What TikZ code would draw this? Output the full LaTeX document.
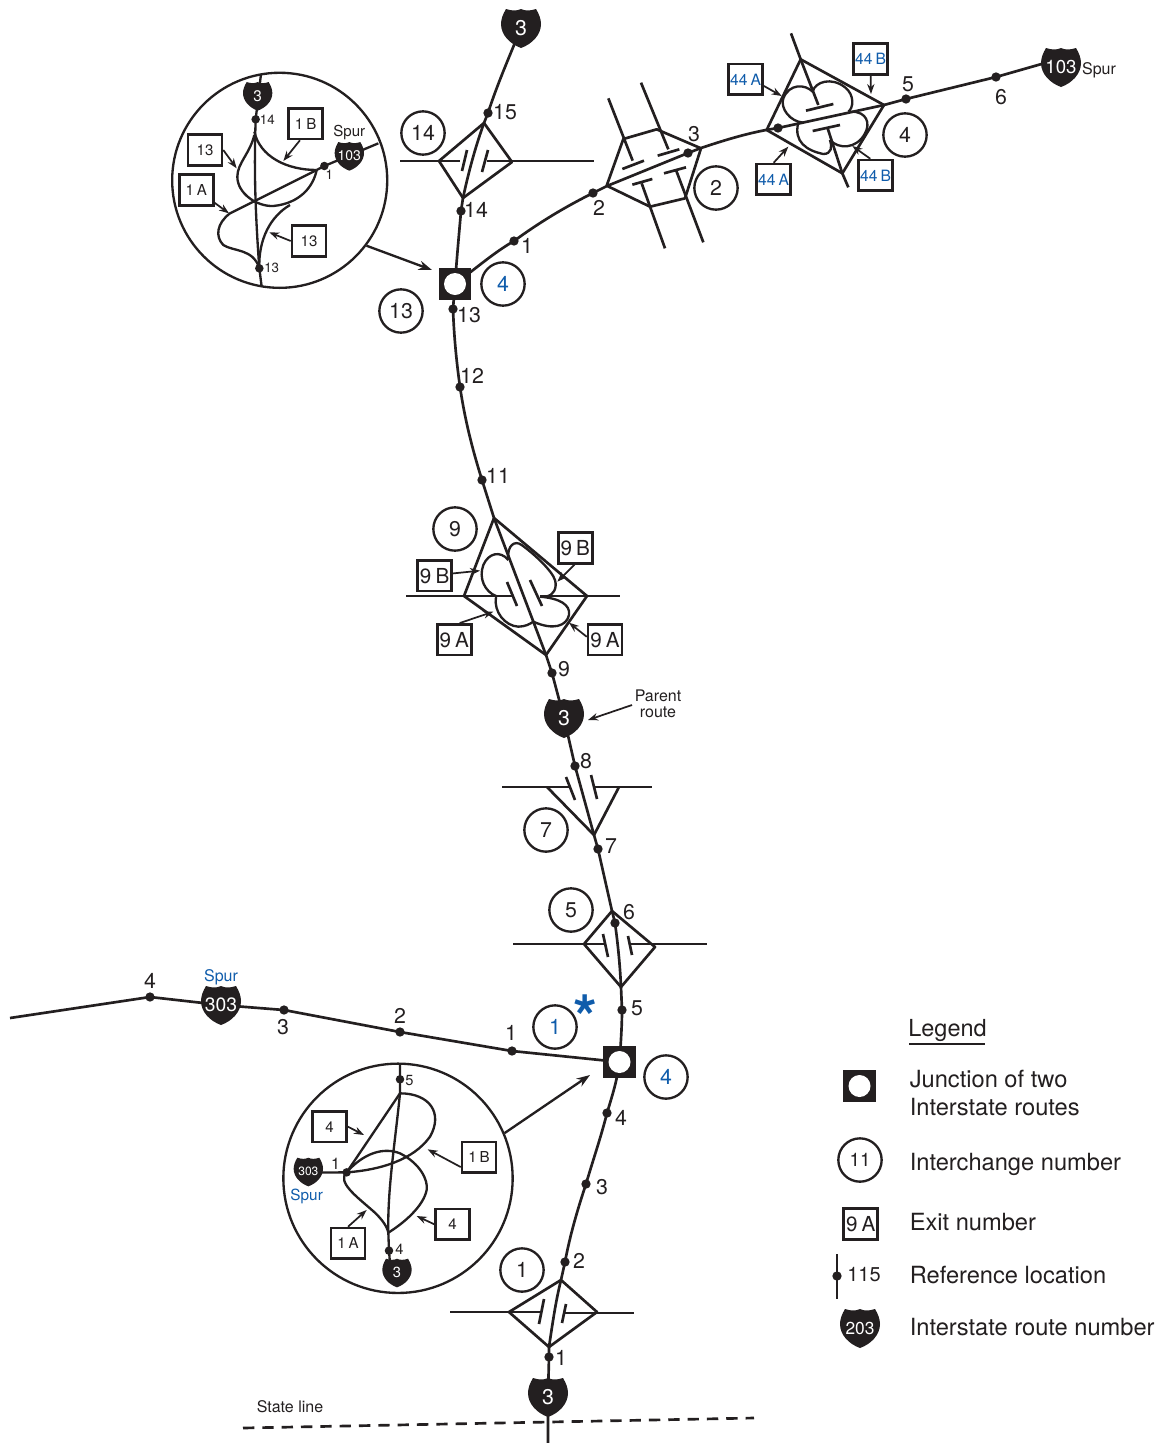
\documentclass[tikz,border=0pt]{standalone}
\usepackage{fontspec}
\setmainfont{TeX Gyre Heros}
\usetikzlibrary{arrows.meta,calc}
\definecolor{ink}{HTML}{231F20}
\definecolor{rblue}{HTML}{0F5CAB}
\pgfdeclarelayer{bg}
\pgfsetlayers{bg,main}
\newcommand{\fs}[1]{\fontsize{#1}{#1}\selectfont}
\tikzset{
  road/.style={draw=ink,line width=2pt,line join=round},
  ramp/.style={draw=ink,line width=1.75pt,line join=round},
  arr/.style={draw=ink,line width=1.3pt,-{Stealth[length=7.5pt,width=5.5pt]}},
  bigarr/.style={draw=ink,line width=1.75pt,-{Stealth[length=10pt,width=7pt]}},
  dotn/.style={circle,fill=ink,minimum size=7pt,inner sep=0pt},
  rcircle/.style={circle,draw=ink,line width=1.75pt,minimum size=32.5pt,inner sep=0pt,text=ink,font=\fs{16}},
  xbox/.style={rectangle,draw=ink,line width=1.9pt,fill=white,inner sep=0pt,minimum width=25.5pt,minimum height=23pt,text=ink},
  lab/.style={inner sep=0pt,text=ink,font=\fs{16}},
  smalllab/.style={inner sep=0pt,text=ink,font=\fs{10}},
  legtext/.style={inner sep=0pt,anchor=base west,text=ink,font=\fs{17.75}},
  jct/.style={rectangle,fill=ink,minimum size=24.5pt,inner sep=0pt},
  jcth/.style={circle,fill=white,minimum size=16.5pt,inner sep=0pt},
}
% \hwy{name}{x,y}{scale}{font size}{text}
\newcommand{\hwy}[5]{%
  \fill[ink,shift={(#2)},scale=#3] (-15,-19) .. controls (-9,-17) and (-4,-17) .. (0,-19)
    .. controls (4,-17) and (9,-17) .. (15,-19)
    .. controls (18,-14) and (20,-9) .. (20,-4)
    .. controls (20,7) and (11,16) .. (0,20)
    .. controls (-11,16) and (-20,7) .. (-20,-4)
    .. controls (-20,-9) and (-18,-14) .. (-15,-19) -- cycle;
  \node[inner sep=0pt,text=white,font=\fs{#4}] (#1) at (#2) {#5};}
\newcommand{\dotat}[2]{\node[dotn] (#1) at (#2) {};}
\newcommand{\lb}[3]{\node[lab] (#1) at (#2) {#3};}
\newcommand{\rc}[3]{\node[rcircle] (#1) at (#2) {#3};}
\newcommand{\rcb}[3]{\node[rcircle,text=rblue] (#1) at (#2) {#3};}
\newcommand{\sep}{\hspace{.2em}}
% \xb{name}{x,y}{text}{font}{anchor}{target}
\newcommand{\xb}[6]{\node[xbox,font=\fs{#4}] (#1) at (#2) {#3};
  \coordinate (#1t) at (#6); \draw[arr] (#1.#5) -- (#1t);}
\begin{document}
\begin{tikzpicture}[x=0.75pt,y=-0.75pt]
\useasboundingbox (0,0) rectangle (1159,1443);
% ---------- Reference dots
\dotat{b1}{549,1357}\dotat{b2}{565,1262}\dotat{b3}{586,1184}\dotat{b4}{607,1113}
\dotat{b5}{622,1010}\dotat{b6}{615,923}\dotat{b7}{598,849}\dotat{b8}{575,766}
\dotat{b9}{552,673}\dotat{b11}{482,480}\dotat{b12}{460,387}\dotat{b13}{453,309}
\dotat{b14}{461,211}\dotat{b15}{488,113}
\dotat{e1}{514,241}\dotat{e2}{593,193}\dotat{e3}{688,153}\dotat{e4}{778,128}\dotat{e5}{906,99}\dotat{e6}{996,77}
\dotat{w1}{512,1051}\dotat{w2}{400,1032}\dotat{w3}{284,1010}\dotat{w4}{150,997}
% ---------- Junctions
\node[jct] (jS) at (619.5,1062) {}; \node[jcth] (jSh) at (jS) {};
\node[jct] (jN) at (455,284) {}; \node[jcth] (jNh) at (jN) {};
% ---------- Shields
\hwy{sA}{548,1397}{1}{16}{3}
\hwy{sB}{564,718}{1}{16}{3}
\hwy{sC}{521,28}{1}{16}{3}
\hwy{sE}{1061,67}{1}{14}{103}
\hwy{sW}{221,1005}{1}{14.5}{303}
% ---------- Free ends
\coordinate (fS) at (548,1443);
\coordinate (fW) at (10,1018);
% ---------- Interchange vertices
\coordinate (i1t) at (561,1280);\coordinate (i1l) at (509,1312);\coordinate (i1r) at (597,1312);\coordinate (i1b) at (549,1347);
\coordinate (i5t) at (612,911);\coordinate (i5l) at (584,944);\coordinate (i5r) at (655,947);\coordinate (i5b) at (621,987);
\coordinate (i7a) at (594,835);\coordinate (i7l) at (547,787);\coordinate (i7r) at (619,787);
\coordinate (i9t) at (494,518);\coordinate (i9l) at (464,596);\coordinate (i9r) at (587,596);\coordinate (i9b) at (546,655);
\coordinate (i14t) at (484,123);\coordinate (i14l) at (439,161);\coordinate (i14r) at (512,162);\coordinate (i14b) at (463,198);
\begin{pgfonlayer}{bg}
% Main route
\draw[road] (fS) -- (sA.center) -- (b1.center) -- (i1b);
\draw[road] (i1b) .. controls (553,1320) and (556,1300) .. (i1t) -- (b2.center);
\draw[road] (b2.center) .. controls (570,1235) and (578,1208) .. (b3.center) .. controls (593,1160) and (601,1137) .. (b4.center) .. controls (614,1090) and (617,1080) .. (jS.center);
\draw[road] (jS.center) .. controls (621,1040) and (622,1025) .. (b5.center) -- (i5b);
\draw[road] (i5b) .. controls (620,965) and (618,945) .. (b6.center) -- (i5t) -- (b7.center) -- (i7a);
\draw[road] (i7a) -- (b8.center) -- (sB.center) -- (b9.center) -- (i9b);
\draw[road] (i9b) -- (i9t) -- (b11.center) .. controls (472,448) and (465,420) .. (b12.center) .. controls (456,358) and (454,335) .. (b13.center) -- (jN.center);
\draw[road] (jN.center) .. controls (457,255) and (459,235) .. (b14.center) -- (i14b);
\draw[road] (i14b) .. controls (469,170) and (476,145) .. (i14t) -- (b15.center) .. controls (497,85) and (508,60) .. (sC.center);
% East spur
\draw[road] (jN.center) .. controls (480,265) and (495,252) .. (e1.center) .. controls (540,222) and (565,207) .. (e2.center);
\draw[road] (e2.center) -- (607,186) -- (e3.center) -- (701,148) .. controls (725,140) and (745,134) .. (766,130) -- (e4.center) -- (884,105) -- (e5.center) -- (e6.center) -- (1045,63) -- (sE.center);
% West spur
\draw[road] (fW) -- (w4.center) -- (sW.center) -- (w3.center) -- (w2.center) -- (w1.center) -- (jS.center);
\end{pgfonlayer}
% ---------- Interchange 1
\draw[road] (i1t) -- (i1l) -- (i1b) -- (i1r) -- cycle;
\draw[road] (450,1312) -- (541,1312); \draw[road] (544,1299) -- (539,1324);
\draw[road] (563,1313) -- (634,1313); \draw[road] (566,1304) -- (562,1323);
% ---------- Interchange 5
\draw[road] (i5t) -- (i5l) -- (i5b) -- (i5r) -- cycle;
\draw[road] (513,944) -- (605,944); \draw[road] (603,934) -- (608,957);
\draw[road] (630,944) -- (707,944); \draw[road] (628,936) -- (632,955);
% ---------- Interchange 7
\draw[road] (i7l) -- (i7a) -- (i7r);
\draw[road] (502,787) -- (570,787); \draw[road] (566,777) -- (575,800);
\draw[road] (595,787) -- (652,787); \draw[road] (591,775) -- (597,799);
% ---------- Interchange 9
\draw[road] (i9t) -- (i9l) -- (i9b) -- (i9r) -- cycle;
\draw[road] (406,596) -- (512,596); \draw[road] (507,582) -- (517,606);
\draw[road] (540,596) -- (620,596); \draw[road] (530,580) -- (542,606);
\begin{scope}[shift={(400,500)},scale=1/3]
\draw[ramp] (325,180) .. controls (300,150) and (265,160) .. (250,195) .. controls (235,235) and (255,275) .. (288,288);
\draw[ramp] (325,180) .. controls (320,135) and (345,120) .. (365,135) .. controls (400,160) and (455,210) .. (465,240) .. controls (472,265) and (460,285) .. (440,290);
\draw[ramp] (420,290) .. controls (480,295) and (512,315) .. (507,345) .. controls (500,378) and (460,392) .. (400,365);
\draw[ramp] (288,290) .. controls (280,335) and (315,378) .. (355,380) .. controls (375,380) and (390,372) .. (400,365);
\xb{x9a}{104,227}{9\sep B}{15.5}{7}{240,212}
\xb{x9b}{526,144}{9\sep B}{15.5}{-93}{472,245}
\xb{x9c}{163,419}{9\sep A}{15.5}{72}{280,335}
\xb{x9d}{615,419}{9\sep A}{15.5}{171}{507,368}
\end{scope}
% ---------- Interchange 14
\draw[road] (i14t) -- (i14l) -- (i14b) -- (i14r) -- cycle;
\draw[road] (400,161) -- (460,161); \draw[road] (467,150) -- (462,171);
\draw[road] (487,161) -- (594,161); \draw[road] (488,150) -- (482,172);
% ---------- Interchanges 2 and 4 (east)
\begin{scope}[shift={(590,20)},scale=1/3]
\draw[road] (50,497) -- (100,357) -- (200,328) -- (333,385) -- (285,535) -- (180,560) -- cycle;
\draw[road] (55,235) -- (128,422); \draw[road] (97,447) -- (162,422);
\draw[road] (153,188) -- (235,388); \draw[road] (203,407) -- (268,388);
\draw[road] (127,494) -- (187,477); \draw[road] (155,490) -- (225,685);
\draw[road] (222,460) -- (288,442); \draw[road] (258,450) -- (340,667);
\draw[road] (530,330) -- (632,118) -- (882,255) -- (757,460) -- cycle;
\draw[road] (603,40) -- (632,118) -- (685,255); \draw[road] (648,272) -- (730,252);
\draw[road] (668,333) -- (750,315); \draw[road] (712,322) -- (757,460) -- (775,502);
\draw[ramp] (668,215) .. controls (645,192) and (598,190) .. (580,235) .. controls (570,265) and (600,305) .. (640,308);
\draw[ramp] (668,215) .. controls (675,185) and (725,170) .. (765,202) .. controls (795,225) and (790,265) .. (775,275);
\draw[ramp] (625,308) .. controls (610,365) and (650,392) .. (700,402) .. controls (725,402) and (727,380) .. (720,360);
\draw[ramp] (720,360) .. controls (745,388) and (800,388) .. (825,340) .. controls (842,310) and (830,275) .. (785,275);
\xb{x44a}{467,178}{\textcolor{rblue}{44\sep A}}{11.7}{-20}{575,228}
\xb{x44b}{842,117}{\textcolor{rblue}{44\sep B}}{11.7}{south}{843,222}
\xb{x44c}{551,478}{\textcolor{rblue}{44\sep A}}{11.7}{north}{595,380}
\xb{x44d}{857,466}{\textcolor{rblue}{44\sep B}}{11.7}{108}{787,378}
\end{scope}
% ---------- Inset north
\node[circle,draw=ink,line width=1.75pt,minimum size=161.3pt,inner sep=0pt] (insN) at (279.7,180.3) {};
\coordinate (insNt) at (432,270);
\draw[bigarr] (insN.-37) -- (insNt);
\begin{scope}[shift={(160,60)},scale=1/3]
\node[dotn,minimum size=6.4pt] (n14) at (287,178) {};
\node[dotn,minimum size=6.4pt] (n13) at (298,625) {};
\node[dotn,minimum size=6.4pt] (n1) at (493,318) {};
\coordinate (nt) at (303,42); \coordinate (nb) at (305,680); \coordinate (ne) at (655,250); \coordinate (nj) at (470,330);
\begin{pgfonlayer}{bg}
\draw[ramp] (nt) -- (n14.center) .. controls (283,300) and (283,420) .. (n13.center) -- (nb);
\draw[ramp] (nj) -- (n1.center) -- (ne);
\end{pgfonlayer}
\draw[ramp] (283,225) .. controls (270,280) and (232,310) .. (232,350) .. controls (232,400) and (290,440) .. (340,438) .. controls (420,430) and (460,380) .. (nj);
\draw[ramp] (283,215) .. controls (300,290) and (380,330) .. (nj);
\draw[ramp] (nj) -- (210,460) .. controls (170,490) and (165,530) .. (190,555) .. controls (220,575) and (280,565) .. (n13.center);
\draw[ramp] (n13.center) .. controls (295,540) and (330,470) .. (390,435);
\hwy{nS3}{293,108}{2.2}{11.5}{3}
\hwy{nS103}{568,288}{2.2}{10.5}{103}
\node[smalllab] (nl14) at (322,180) {14};
\node[smalllab] (nl13) at (335,623) {13};
\node[smalllab] (nl1) at (508,345) {1};
\node[inner sep=0pt,text=ink,font=\fs{11.3}] (nsp) at (568,218) {Spur};
\xb{xna}{437,191}{1\sep B}{11.3}{-109}{370,303}
\xb{xnb}{135,270}{13}{11.3}{east}{230,325}
\xb{xnc}{109,390}{1\sep A}{11.3}{-35}{207,460}
\xb{xnd}{447,543}{13}{11.3}{west}{328,517}
\end{scope}
% ---------- Inset south
\node[circle,draw=ink,line width=1.75pt,minimum size=172pt,inner sep=0pt] (insS) at (398,1178.3) {};
\coordinate (insSt) at (590,1075);
\draw[bigarr] (insS.23) -- (insSt);
\begin{scope}[shift={(280,1050)},scale=1/3]
\node[dotn,minimum size=6.4pt] (s5) at (360,88) {};
\node[dotn,minimum size=6.4pt] (s4) at (327,602) {};
\node[dotn,minimum size=6.4pt] (s1) at (200,367) {};
\coordinate (st) at (360,42); \coordinate (sj) at (360,130); \coordinate (sk) at (325,548);
\begin{pgfonlayer}{bg}
\draw[ramp] (st) -- (s5.center) -- (sj) .. controls (345,280) and (322,420) .. (sk) -- (s4.center) -- (330,640);
\draw[ramp] (85,368) -- (s1.center);
\end{pgfonlayer}
\draw[ramp] (s1.center) -- (sj);
\draw[ramp] (s1.center) .. controls (300,360) and (400,330) .. (450,260) .. controls (490,190) and (450,130) .. (sj);
\draw[ramp] (s1.center) .. controls (250,310) and (310,290) .. (360,310) .. controls (420,340) and (445,390) .. (440,420) .. controls (430,470) and (370,520) .. (sk);
\draw[ramp] (s1.center) .. controls (170,395) and (230,440) .. (270,475) .. controls (300,500) and (320,525) .. (sk);
\hwy{sS303}{85,365}{2.2}{9}{303}
\hwy{sS3}{351,668}{2.2}{11}{3}
\node[inner sep=0pt,text=ink,font=\fs{12}] (sl1) at (167,342) {1};
\node[inner sep=0pt,text=ink,font=\fs{11}] (sl5) at (388,92) {5};
\node[inner sep=0pt,text=ink,font=\fs{11}] (sl4) at (358,597) {4};
\node[inner sep=0pt,text=rblue,font=\fs{11.5}] (ssp) at (80,438) {Spur};
\xb{xsa}{149,230}{4}{11.3}{east}{252,255}
\xb{xsb}{597,322}{1\sep B}{11.3}{208}{443,298}
\xb{xsc}{518,523}{4}{11.3}{west}{410,498}
\xb{xsd}{204,580}{1\sep A}{11.3}{north}{260,480}
\end{scope}
% ---------- Interchange circles
\rc{c1}{522,1270}{1}
\rc{c5}{571,910}{5}
\rc{c7}{546,830}{7}
\rc{c9}{455,529}{9}
\rc{c13}{401,311}{13}
\rc{c14}{423,133}{14}
\rc{c2}{716,188}{2}
\rc{c4}{905,135}{4}
\rcb{cS1}{555,1027}{1}
\rcb{cS4}{666,1077}{4}
\rcb{cN4}{503,284}{4}
\node[inner sep=0pt,text=rblue,font=\fs{46}\bfseries] (aster) at (585,1017) {*};
% ---------- Reference labels
\lb{l1}{561,1358}{1}\lb{l2}{579,1261}{2}\lb{l3}{602,1187}{3}\lb{l4}{621,1118}{4}
\lb{l5}{637,1008}{5}\lb{l6}{629,912}{6}\lb{l7}{611,846}{7}\lb{l8}{586,761}{8}
\lb{l9}{564,669}{9}\lb{l11}{498,476}{11}\lb{l12}{472,376}{12}\lb{l13}{469,315}{13}
\lb{l14}{476,210}{14}\lb{l15}{505,112}{15}
\lb{le1}{527,246}{1}\lb{le2}{599,208}{2}\lb{le3}{694,134}{3}\lb{le5}{908,84}{5}\lb{le6}{1001,97}{6}
\lb{lw1}{511,1033}{1}\lb{lw2}{400,1016}{2}\lb{lw3}{283,1027}{3}\lb{lw4}{150,981}{4}
\node[inner sep=0pt,text=ink,font=\fs{12}] (spE) at (1099,70) {Spur};
\node[inner sep=0pt,text=rblue,font=\fs{12}] (spW) at (221,977) {Spur};
% ---------- Parent route
\node[inner sep=0pt,text=ink,font=\fs{12},align=center] (parent) at (658,704) {Parent\\route};
\coordinate (parentT) at (588,720);
\draw[arr] (632,705) -- (parentT);
% ---------- State line
\node[inner sep=0pt,text=ink,font=\fs{12}] (state) at (290,1407) {State line};
\draw[road,dash pattern=on 8.5pt off 6pt] (243,1428) -- (754,1418);
% ---------- Legend
\node[inner sep=0pt,anchor=base,text=ink,font=\fs{17.6}] (legend) at (947.5,1036) {Legend};
\draw[draw=ink,line width=1.3pt] (909,1044) -- (985,1044);
\node[jct] (lgJ) at (859.5,1086) {}; \node[jcth] (lgJh) at (lgJ) {};
\node[legtext] (lgT1) at (909.5,1087) {Junction of two};
\node[legtext] (lgT2) at (909.5,1115) {Interstate routes};
\node[rcircle,font=\fs{14}] (lgC) at (860,1160) {11};
\node[legtext] (lgT3) at (909.5,1170) {Interchange number};
\node[xbox,font=\fs{15.5}] (lgX) at (860.7,1224) {9\sep A};
\node[legtext] (lgT4) at (909.5,1230) {Exit number};
\coordinate (lgA) at (837,1254); \coordinate (lgB) at (837,1299);
\dotat{lgD}{837,1276}
\draw[road] (lgA) -- (lgB);
\node[inner sep=0pt,anchor=west,text=ink,font=\fs{15}] (lg115) at (847,1275) {115};
\node[legtext] (lgT5) at (909.5,1283) {Reference location};
\hwy{lgS}{860,1328}{1}{13}{203}
\node[legtext] (lgT6) at (909.5,1335) {Interstate route number};
\end{tikzpicture}
\end{document}
